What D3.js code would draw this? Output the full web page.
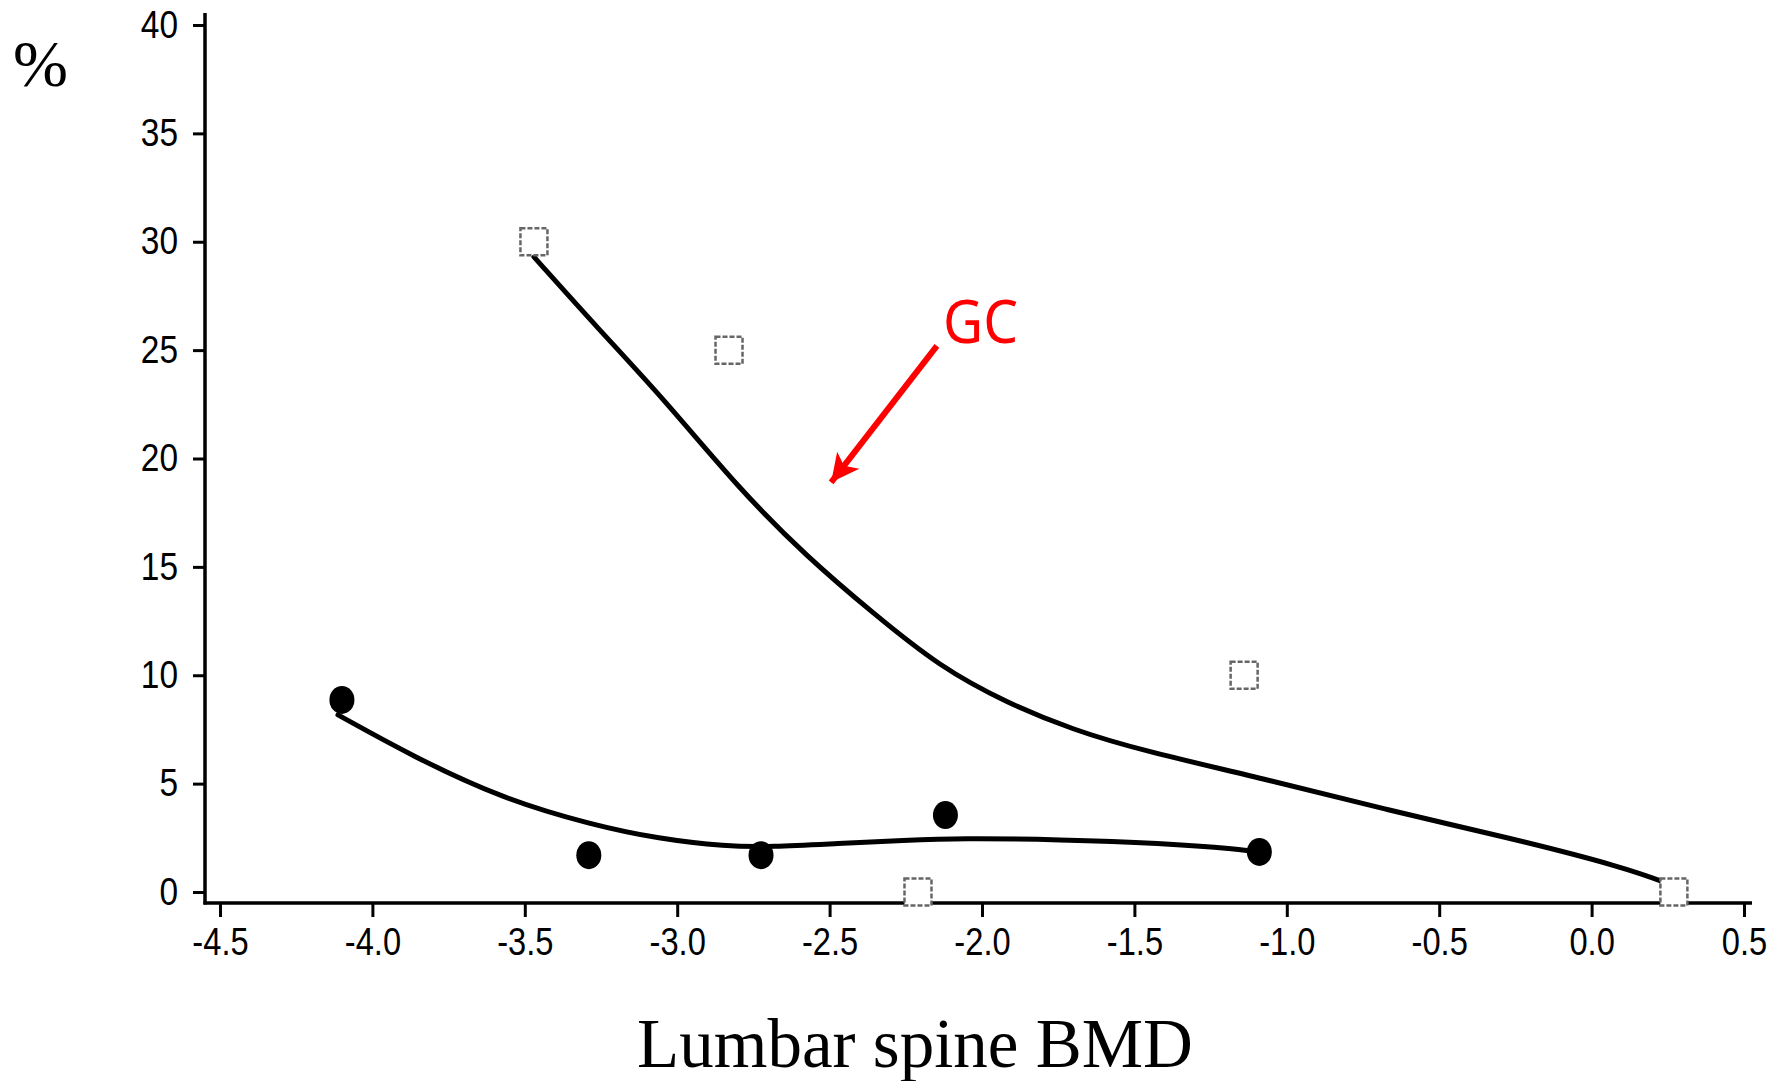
<!DOCTYPE html>
<html>
<head>
<meta charset="utf-8">
<script src="https://cdn.jsdelivr.net/npm/d3@7"></script>
<style>
  body { margin: 0; background: #fff; }
  svg { display: block; }
</style>
</head>
<body>
<div id="chart-area"></div>
<script>
// GC group (open squares) and its smoothed curve
const gcX = [-3.47, -2.83, -2.21, -1.14, 0.27];
const gcY = [30, 25, 0, 10, 0];
const gcCurveX = [-3.47, -3.26, -3.047, -2.794, -2.574, -2.358, -2.138, -1.918, -1.701, -1.482, -1.058, -0.671, -0.281, 0.106, 0.264];
const gcCurveY = [29.3, 26.0, 22.8, 18.55, 15.46, 12.87, 10.38, 8.72, 7.48, 6.55, 5.17, 3.78, 2.54, 1.15, 0.32];

// other group (filled circles) and its smoothed curve
const ctlX = [-4.1, -3.29, -2.725, -2.12, -1.09];
const ctlY = [8.86, 1.7, 1.7, 3.55, 1.85];
const ctlCurveX = [-4.113, -3.864, -3.572, -3.28, -3.06, -2.84, -2.692, -2.472, -2.253, -2.072, -1.744, -1.416, -1.144, -1.104];
const ctlCurveY = [8.17, 6.23, 4.3, 3.1, 2.45, 2.1, 2.08, 2.24, 2.38, 2.48, 2.42, 2.26, 1.96, 1.85];

const xTicks = [-4.5, -4.0, -3.5, -3.0, -2.5, -2.0, -1.5, -1.0, -0.5, 0.0, 0.5];
const yTicks = [0, 5, 10, 15, 20, 25, 30, 35, 40];

// annotation in data units: arrow start, arrow tip, label position
const arrowFrom = [-2.148, 25.2];
const arrowTo = [-2.495, 18.9];
const gcLabel = [-2.128, 25.33];

const width = 1770;
const height = 1081;

const svg = d3
  .select("#chart-area")
  .append("svg")
  .attr("width", width)
  .attr("height", height);

const x = d3.scaleLinear().domain([-4.5, 0.5]).range([220, 1744]);
const y = d3.scaleLinear().domain([0, 40]).range([892, 25]);

const axisLeftX = 205;
const axisBottomY = 903;

// axis lines
svg
  .append("line")
  .attr("x1", axisLeftX)
  .attr("x2", axisLeftX)
  .attr("y1", 13)
  .attr("y2", axisBottomY + 1.5)
  .attr("stroke", "#000")
  .attr("stroke-width", 3.5);

svg
  .append("line")
  .attr("x1", axisLeftX - 1.5)
  .attr("x2", 1752)
  .attr("y1", axisBottomY)
  .attr("y2", axisBottomY)
  .attr("stroke", "#000")
  .attr("stroke-width", 3.5);

const xAxis = svg
  .append("g")
  .attr("transform", `translate(0, ${axisBottomY})`)
  .call(
    d3
      .axisBottom(x)
      .tickValues(xTicks)
      .tickSize(14)
      .tickPadding(11)
  );
xAxis.select(".domain").remove();
xAxis.selectAll("line").attr("stroke-width", 3);
xAxis
  .selectAll("text")
  .attr("font-family", "'Liberation Sans', Arial, sans-serif")
  .attr("font-size", 38)
  .attr("fill", "#000")
  .attr("transform", "scale(0.86,1)")
  .text((d) => d3.format(".1f")(d).replace("−", "-"));

const yAxis = svg
  .append("g")
  .attr("transform", `translate(${axisLeftX}, 0)`)
  .call(d3.axisLeft(y).tickValues(yTicks).tickSize(12).tickPadding(15));
yAxis.select(".domain").remove();
yAxis.selectAll("line").attr("stroke-width", 3);
yAxis
  .selectAll("text")
  .attr("font-family", "'Liberation Sans', Arial, sans-serif")
  .attr("font-size", 38)
  .attr("fill", "#000")
  .attr("x", 0)
  .attr("transform", "translate(-27,0) scale(0.88,1)");

// curves
const line = d3
  .line()
  .x((d) => x(d[0]))
  .y((d) => y(d[1]))
  .curve(d3.curveBasis);

const curves = [
  d3.zip(gcCurveX, gcCurveY),
  d3.zip(ctlCurveX, ctlCurveY),
];

svg
  .append("g")
  .selectAll("path")
  .data(curves)
  .join("path")
  .attr("d", line)
  .attr("fill", "none")
  .attr("stroke", "#000")
  .attr("stroke-width", 5)
  .attr("stroke-linecap", "round")
  .attr("stroke-linejoin", "round");

// open squares
const sq = 27;
svg
  .append("g")
  .selectAll("rect")
  .data(d3.zip(gcX, gcY))
  .join("rect")
  .attr("x", (d) => x(d[0]) - sq / 2)
  .attr("y", (d) => y(d[1]) - sq / 2)
  .attr("width", sq)
  .attr("height", sq)
  .attr("fill", "#fff")
  .attr("stroke", "#666")
  .attr("stroke-width", 2.5)
  .attr("stroke-dasharray", "5,2");

// filled circles
svg
  .append("g")
  .selectAll("ellipse")
  .data(d3.zip(ctlX, ctlY))
  .join("ellipse")
  .attr("cx", (d) => x(d[0]))
  .attr("cy", (d) => y(d[1]))
  .attr("rx", 12.5)
  .attr("ry", 14)
  .attr("fill", "#000");

// axis titles
svg
  .append("text")
  .attr("x", 13)
  .attr("y", 86)
  .attr("font-family", "'Liberation Serif', 'Times New Roman', serif")
  .attr("font-size", 66)
  .attr("fill", "#000")
  .text("%");

svg
  .append("text")
  .attr("x", 915)
  .attr("y", 1067)
  .attr("text-anchor", "middle")
  .attr("font-family", "'Liberation Serif', 'Times New Roman', serif")
  .attr("font-size", 69)
  .attr("fill", "#000")
  .text("Lumbar spine BMD");

// red GC annotation
svg
  .append("defs")
  .append("marker")
  .attr("id", "arrow-red")
  .attr("viewBox", "0 0 10 10")
  .attr("refX", 10)
  .attr("refY", 5)
  .attr("markerUnits", "userSpaceOnUse")
  .attr("markerWidth", 32)
  .attr("markerHeight", 28)
  .attr("orient", "auto")
  .append("path")
  .attr("d", "M 0 0 L 10 5 L 0 10 L 2.5 5 z")
  .attr("fill", "red");

svg
  .append("line")
  .attr("x1", x(arrowFrom[0]))
  .attr("y1", y(arrowFrom[1]))
  .attr("x2", x(arrowTo[0]))
  .attr("y2", y(arrowTo[1]))
  .attr("stroke", "red")
  .attr("stroke-width", 6)
  .attr("marker-end", "url(#arrow-red)");

svg
  .append("text")
  .attr("x", x(gcLabel[0]))
  .attr("y", y(gcLabel[1]))
  .attr("font-family", "'Noto Sans', 'DejaVu Sans', sans-serif")
  .attr("font-size", 60)
  .attr("fill", "red")
  .attr("transform", `translate(${x(gcLabel[0])},0) scale(0.92,1) translate(${-x(gcLabel[0])},0)`)
  .text("GC");
</script>
</body>
</html>
